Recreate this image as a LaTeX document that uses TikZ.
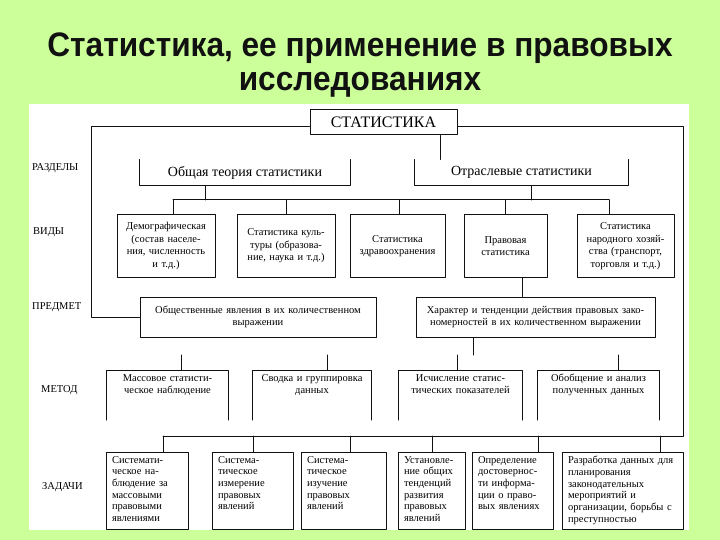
\documentclass[tikz,border=0pt]{standalone}
\usepackage{fontspec}
\setmainfont{Liberation Serif}
\newfontfamily\headfont[FakeStretch=0.93]{Liberation Sans}
\usetikzlibrary{calc}
\providecommand{\Page}{CCFF99}
\providecommand{\Sheet}{FFFFFF}
\providecommand{\Ink}{111111}
\newcommand{\Unit}{1pt}
\newcommand{\Rule}{1.0pt}
\definecolor{page}{HTML}{\Page}
\definecolor{sheet}{HTML}{\Sheet}
\definecolor{ink}{HTML}{\Ink}

\tikzset{
  wire/.style={draw=ink, line width=\Rule},
  box/.style={draw=ink, line width=\Rule, inner xsep=3pt, inner ysep=2pt, align=center,
    font=\fontsize{10.5}{12.5}\selectfont},
  openbox/.style={box, draw=none},
  stagebox/.style={anchor=north, inner xsep=3pt, inner ysep=4pt, align=center,
    font=\fontsize{10.5}{12}\selectfont},
  taskbox/.style={anchor=north, inner xsep=5pt, inner ysep=4pt, align=left,
    font=\fontsize{10.5}{11.7}\selectfont},
  tag/.style={anchor=west, inner sep=0pt, font=\fontsize{10.5}{12}\selectfont},
  headline/.style={anchor=base, inner sep=0pt, text=ink,
    font=\headfont\bfseries\fontsize{34}{36}\selectfont},
}

\begin{document}
\begin{tikzpicture}[x=\Unit,y=-\Unit, line join=round, line cap=round]

  % ---- page and sheet -----------------------------------------------------
  \useasboundingbox (0,0) rectangle (720,540);
  \fill[page] (0,0) rectangle (720,540);
  \fill[sheet] (29,104) rectangle (689,530);

  % ---- heading ------------------------------------------------------------
  \node[headline] (title1) at (360,57) {Статистика, ее применение в правовых};
  \node[headline] (title2) at (360,91) {исследованиях};

  % ---- row names on the left ----------------------------------------------
  \node[tag] (lrazd) at (32,168) {РАЗДЕЛЫ};
  \node[tag] (lvid)  at (33,232) {ВИДЫ};
  \node[tag] (lpred) at (32,307) {ПРЕДМЕТ};
  \node[tag] (lmet)  at (41,390) {МЕТОД};
  \node[tag] (lzad)  at (42,487) {ЗАДАЧИ};

  % ---- root and the two sections ------------------------------------------
  \node[box, font=\fontsize{16}{18}\selectfont, minimum width=147pt, minimum height=25pt]
    (stat) at (383.5,122.5) {СТАТИСТИКА};
  \node[openbox, font=\fontsize{14}{16}\selectfont, minimum width=210pt, minimum height=25pt]
    (obsh) at (245,172.5) {Общая теория статистики};
  \node[openbox, font=\fontsize{14}{16}\selectfont, minimum width=213pt, minimum height=25pt]
    (otr) at (521.5,172.5) {Отраслевые статистики};
  % the section boxes have no top edge
  \foreach \b in {obsh,otr} {
    \draw[wire] (\b.north west) -- (\b.south west) -- (\b.south east) -- (\b.north east);
  }

  % ---- kinds --------------------------------------------------------------
  \node[box, minimum width=98pt, minimum height=62pt, text width=92pt] (vid1) at (166,246)
    {Демографическая\\(состав населе-\\ния, численность\\и т.д.)};
  \node[box, minimum width=98pt, minimum height=62pt, text width=92pt] (vid2) at (286,246)
    {Статистика куль-\\туры (образова-\\ние, наука и т.д.)};
  \node[box, minimum width=95pt, minimum height=62pt, text width=89pt] (vid3) at (397.5,246)
    {Статистика\\здравоохранения};
  \node[box, minimum width=83pt, minimum height=62pt, text width=77pt] (vid4) at (505.5,246)
    {Правовая\\статистика};
  \node[box, minimum width=97pt, minimum height=62pt, text width=91pt] (vid5) at (625.5,246)
    {Статистика\\народного хозяй-\\ства (транспорт,\\торговля и т.д.)};

  % ---- subject ------------------------------------------------------------
  \node[box, minimum width=236pt, minimum height=40pt, text width=230pt] (predA) at (258,317)
    {Общественные явления в их количественном\\выражении};
  \node[box, minimum width=239pt, minimum height=40pt, text width=233pt] (predB) at (535.5,317)
    {Характер и тенденции действия правовых зако-\\номерностей в их количественном выражении};

  % ---- method (boxes open at the bottom) ----------------------------------
  \node[stagebox, text width=115pt] (met1) at (167.5,370) {Массовое статисти-\\ческое наблюдение};
  \node[stagebox, text width=112pt] (met2) at (312,370) {Сводка и группировка\\данных};
  \node[stagebox, text width=117pt] (met3) at (460.5,370) {Исчисление статис-\\тических показателей};
  \node[stagebox, text width=115pt] (met4) at (598.5,370) {Обобщение и анализ\\полученных данных};
  \coordinate (metbot) at (0,420);
  \foreach \i in {1,...,4} {
    \draw[wire] (met\i.north west |- metbot) -- (met\i.north west)
      -- (met\i.north east) -- (met\i.north east |- metbot);
  }

  % ---- tasks --------------------------------------------------------------
  \node[taskbox, text width=71pt]  (z1) at (147.5,452)
    {Системати-\\ческое на-\\блюдение за\\массовыми\\правовыми\\явлениями};
  \node[taskbox, text width=70pt]  (z2) at (253,452)
    {Система-\\тическое\\измерение\\правовых\\явлений};
  \node[taskbox, text width=74pt]  (z3) at (344,452)
    {Система-\\тическое\\изучение\\правовых\\явлений};
  \node[taskbox, text width=56pt]  (z4) at (432,452)
    {Установле-\\ние общих\\тенденций\\развития\\правовых\\явлений};
  \node[taskbox, text width=70pt]  (z5) at (513,452)
    {Определение\\достовернос-\\ти информа-\\ции о право-\\вых явлениях};
  \node[taskbox, text width=110pt] (z6) at (623,452)
    {Разработка данных для\\планирования\\законодательных\\мероприятий и\\организации, борьбы с\\преступностью};
  \coordinate (zbot) at (0,529);
  \foreach \i in {1,...,6} {
    \draw[wire] (z\i.north west) rectangle (z\i.north east |- zbot);
  }

  % ---- the long frame lines from the root ---------------------------------
  \coordinate (topL) at (91,127);
  \coordinate (topR) at (683,127);
  \coordinate (zbus) at (163,436);
  \draw[wire] (stat.west |- topL) -- (topL) |- (predA.west);
  \draw[wire] (stat.east |- topR) -- (topR) |- (zbus);
  \coordinate (sx) at (440,0);
  \draw[wire] (stat.south -| sx) -- (otr.north -| sx);

  % ---- sections down to the kinds -----------------------------------------
  \coordinate (vbusL) at (173,200);
  \coordinate (vbusR) at (609,200);
  \coordinate (k1) at (205,0);
  \coordinate (k2) at (531,0);
  \draw[wire] (vbusL) -- (vbusR);
  \draw[wire] (obsh.south -| k1) -- (k1 |- vbusL);
  \draw[wire] (otr.south -| k2) -- (k2 |- vbusL);
  \foreach \x/\i in {173/1,286/2,399/3,505/4,609/5} {
    \path (\x,200) coordinate (t);
    \draw[wire] (t) -- (t |- vid\i.north);
  }

  % ---- legal statistics down to the subject -------------------------------
  \coordinate (k3) at (522,0);
  \draw[wire] (vid4.south -| k3) -- (predB.north -| k3);

  % ---- subject down to the method (short stubs) ---------------------------
  \coordinate (bstub) at (473,355);
  \draw[wire] (predB.south -| bstub) -- (bstub);
  \foreach \x/\i in {181/1,327/2,457/3,618/4} {
    \path (\x,355) coordinate (t);
    \draw[wire] (t) -- (t |- met\i.north);
  }

  % ---- tasks bus ----------------------------------------------------------
  \foreach \x/\i in {163/1,253/2,350/3,432/4,538/5,660/6} {
    \path (\x,436) coordinate (t);
    \draw[wire] (t) -- (t |- z\i.north);
  }

\end{tikzpicture}
\end{document}
